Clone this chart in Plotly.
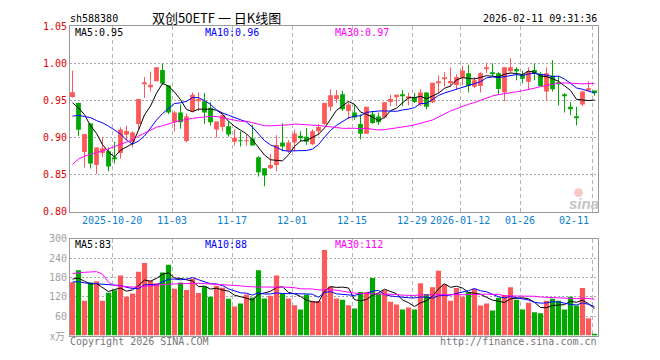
import plotly.graph_objects as go

W, H = 660, 360

dates = [
    "2025-10-09", "2025-10-10", "2025-10-13", "2025-10-14", "2025-10-15", "2025-10-16", "2025-10-17",
    "2025-10-20", "2025-10-21", "2025-10-22", "2025-10-23", "2025-10-24", "2025-10-27", "2025-10-28",
    "2025-10-29", "2025-10-30", "2025-10-31",
    "2025-11-03", "2025-11-04", "2025-11-05", "2025-11-06", "2025-11-07", "2025-11-10", "2025-11-11",
    "2025-11-12", "2025-11-13", "2025-11-14", "2025-11-17", "2025-11-18", "2025-11-19", "2025-11-20",
    "2025-11-21", "2025-11-24", "2025-11-25", "2025-11-26", "2025-11-27", "2025-11-28",
    "2025-12-01", "2025-12-02", "2025-12-03", "2025-12-04", "2025-12-05", "2025-12-08", "2025-12-09",
    "2025-12-10", "2025-12-11", "2025-12-12", "2025-12-15", "2025-12-16", "2025-12-17", "2025-12-18",
    "2025-12-19", "2025-12-22", "2025-12-23", "2025-12-24", "2025-12-25", "2025-12-26", "2025-12-29",
    "2025-12-30", "2025-12-31",
    "2026-01-05", "2026-01-06", "2026-01-07", "2026-01-08", "2026-01-09", "2026-01-12", "2026-01-13",
    "2026-01-14", "2026-01-15", "2026-01-16", "2026-01-19", "2026-01-20", "2026-01-21", "2026-01-22",
    "2026-01-23", "2026-01-26", "2026-01-27", "2026-01-28", "2026-01-29", "2026-01-30",
    "2026-02-02", "2026-02-03", "2026-02-04", "2026-02-05", "2026-02-06", "2026-02-09", "2026-02-10",
    "2026-02-11",
]

opens = [
    0.9547, 0.9468, 0.8806, 0.9190, 0.8632, 0.8793, 0.8815, 0.8725, 0.8793, 0.9040,
    0.8946, 0.9185, 0.9721, 0.9686, 0.9760, 0.9913, 0.9704, 0.9207, 0.9338, 0.8954,
    0.9360, 0.9495, 0.9490, 0.9403, 0.9111, 0.9142, 0.9155, 0.8946, 0.8955, 0.8950,
    0.8989, 0.8736, 0.8588, 0.8588, 0.8632, 0.8933, 0.8824, 0.8933, 0.9024, 0.9011,
    0.8911, 0.9085, 0.9185, 0.9416, 0.9520, 0.9586, 0.9360, 0.9338, 0.9185, 0.9054,
    0.9316, 0.9285, 0.9272, 0.9482, 0.9543, 0.9573, 0.9535, 0.9547, 0.9447, 0.9608,
    0.9477, 0.9739, 0.9791, 0.9739, 0.9708, 0.9808, 0.9869, 0.9686, 0.9695, 0.9926,
    0.9875, 0.9869, 0.9608, 0.9895, 0.9926, 0.9852, 0.9752, 0.9913, 0.9861, 0.9621,
    0.9839, 0.9735, 0.9568, 0.9416, 0.9280, 0.9447, 0.9634, 0.9634,
]
highs = [
    0.9904, 0.9470, 0.9050, 0.9190, 0.8867, 0.9007, 0.8867, 0.8946, 0.9140, 0.9160,
    0.9085, 0.9520, 0.9817, 0.9890, 0.9948, 1.0000, 0.9704, 0.9360, 0.9447, 0.9325,
    0.9608, 0.9608, 0.9600, 0.9477, 0.9216, 0.9338, 0.9216, 0.9111, 0.9085, 0.9041,
    0.9172, 0.8750, 0.8588, 0.8780, 0.9033, 0.9194, 0.8967, 0.9111, 0.9085, 0.9129,
    0.9111, 0.9185, 0.9468, 0.9651, 0.9643, 0.9634, 0.9477, 0.9447, 0.9316, 0.9416,
    0.9360, 0.9338, 0.9477, 0.9577, 0.9577, 0.9643, 0.9608, 0.9600, 0.9651, 0.9608,
    0.9739, 0.9839, 0.9882, 0.9948, 0.9852, 0.9970, 0.9983, 0.9817, 0.9882, 1.0013,
    1.0000, 0.9882, 0.9948, 1.0070, 0.9948, 0.9904, 0.9948, 1.0000, 0.9882, 0.9948,
    1.0044, 0.9826, 0.9600, 0.9477, 0.9416, 0.9634, 0.9765, 0.9634,
]
lows = [
    0.9540, 0.9024, 0.8597, 0.8584, 0.8510, 0.8736, 0.8545, 0.8650, 0.8720, 0.8967,
    0.8867, 0.9110, 0.9534, 0.9620, 0.9760, 0.9708, 0.9316, 0.9085, 0.9120, 0.8937,
    0.9350, 0.9360, 0.9185, 0.9163, 0.9000, 0.9085, 0.9011, 0.8893, 0.8880, 0.8893,
    0.8893, 0.8475, 0.8344, 0.8575, 0.8545, 0.8815, 0.8793, 0.8815, 0.8946, 0.8902,
    0.8902, 0.9033, 0.9172, 0.9360, 0.9468, 0.9360, 0.9250, 0.9242, 0.8976, 0.9054,
    0.9185, 0.9172, 0.9260, 0.9425, 0.9425, 0.9425, 0.9434, 0.9468, 0.9425, 0.9381,
    0.9468, 0.9600, 0.9686, 0.9686, 0.9643, 0.9708, 0.9608, 0.9665, 0.9608, 0.9869,
    0.9817, 0.9577, 0.9490, 0.9869, 0.9773, 0.9730, 0.9651, 0.9773, 0.9686, 0.9503,
    0.9620, 0.9434, 0.9338, 0.9303, 0.9163, 0.9425, 0.9620, 0.9564,
]
closes = [
    0.9612, 0.9107, 0.9050, 0.8650, 0.8867, 0.8858, 0.8610, 0.8710, 0.9111, 0.9090,
    0.9068, 0.9520, 0.9743, 0.9712, 0.9948, 0.9730, 0.9338, 0.9338, 0.9207, 0.9285,
    0.9577, 0.9510, 0.9338, 0.9207, 0.9216, 0.9303, 0.9041, 0.8998, 0.8950, 0.8963,
    0.8893, 0.8532, 0.8488, 0.8632, 0.8902, 0.8880, 0.8933, 0.9055, 0.9000, 0.8946,
    0.9085, 0.9142, 0.9468, 0.9573, 0.9573, 0.9381, 0.9447, 0.9272, 0.9054, 0.9416,
    0.9198, 0.9207, 0.9477, 0.9520, 0.9577, 0.9565, 0.9550, 0.9482, 0.9608, 0.9416,
    0.9739, 0.9752, 0.9808, 0.9765, 0.9817, 0.9904, 0.9695, 0.9773, 0.9869, 0.9935,
    0.9865, 0.9656, 0.9948, 0.9948, 0.9904, 0.9795, 0.9895, 0.9861, 0.9695, 0.9869,
    0.9651, 0.9720, 0.9560, 0.9381, 0.9270, 0.9621, 0.9665, 0.9599,
]
volumes = [
    165, 202, 108, 164, 168, 108, 133, 140, 186, 120,
    130, 198, 225, 170, 162, 195, 219, 145, 164, 141,
    176, 132, 152, 120, 154, 148, 114, 90, 99, 127,
    118, 202, 115, 123, 186, 130, 115, 94, 81, 127,
    107, 107, 265, 152, 115, 111, 94, 84, 135, 135,
    178, 130, 140, 105, 96, 81, 87, 81, 162, 129,
    150, 201, 159, 108, 147, 120, 135, 145, 93, 99,
    78, 117, 126, 150, 111, 81, 102, 72, 69, 108,
    114, 108, 81, 120, 93, 147, 54, 3,
]

# moving-average values read off the picture where earlier history is not shown
ma5_head = [0.947, 0.940, 0.931, 0.916]
ma10_head = [0.929, 0.930, 0.9285, 0.927, 0.923, 0.920, 0.9155, 0.910, 0.905]
ma30_head = [0.864, 0.871, 0.875, 0.878, 0.880, 0.882, 0.885, 0.887, 0.890, 0.894,
             0.897, 0.902, 0.906, 0.910, 0.914, 0.916, 0.919, 0.921, 0.923, 0.925,
             0.926, 0.927, 0.928, 0.9285, 0.9285, 0.927, 0.925, 0.923, 0.922]
vma5_head = [175, 178, 168, 160]
vma10_head = [166, 167, 163, 162, 161, 160, 159, 158, 155]
vma30_head = [192, 195, 196, 197, 198, 190, 165, 155, 153, 151,
              150, 151, 153, 154, 156, 158, 159, 160, 161, 161,
              162, 162, 161, 160, 159, 158, 158, 156, 154]

tick_dates = ["2025-10-20", "2025-11-03", "2025-11-17", "2025-12-01", "2025-12-15",
              "2025-12-29", "2026-01-12", "2026-01-26", "2026-02-11"]
tick_labels = ["2025-10-20", "11-03", "11-17", "12-01", "12-15",
               "12-29", "2026-01-12", "01-26", "02-11"]
price_ticks = [0.80, 0.85, 0.90, 0.95, 1.00, 1.05]
vol_ticks = [60, 120, 180, 240, 300]

code = "sh588380"
title = "双创50ETF 一 日K线图"
stamp = "2026-02-11 09:31:36"
price_ma_labels = ["MA5:0.95", "MA10:0.96", "MA30:0.97"]
vol_ma_labels = ["MA5:83", "MA10:88", "MA30:112"]

UP, DOWN = "#ff5858", "#00a800"
MA_COLORS = ["#000000", "#0000ff", "#ff00ff"]
MONO = "DejaVu Sans Mono"


def rolling(vals, n, head):
    out = list(head)
    for i in range(len(head), len(vals)):
        out.append(sum(vals[i - n + 1:i + 1]) / n)
    return out


n = len(dates)
idx = list(range(n))
up = [c >= o for o, c in zip(opens, closes)]
colors = [UP if u else DOWN for u in up]

ma5 = rolling(closes, 5, ma5_head)
ma10 = rolling(closes, 10, ma10_head)
ma30 = rolling(closes, 30, ma30_head)
vma5 = rolling(volumes, 5, vma5_head)
vma10 = rolling(volumes, 10, vma10_head)
vma30 = rolling(volumes, 30, vma30_head)

fig = go.Figure()

# wicks
for flag, col in [(True, UP), (False, DOWN)]:
    xs, ys = [], []
    for i in idx:
        if up[i] == flag:
            xs += [i, i, None]
            ys += [lows[i], highs[i], None]
    fig.add_trace(go.Scatter(x=xs, y=ys, mode="lines", line=dict(color=col, width=1),
                             hoverinfo="skip", xaxis="x", yaxis="y"))

# bodies
base = [min(o, c) for o, c in zip(opens, closes)]
height = [max(abs(c - o), 0.0012) for o, c in zip(opens, closes)]
fig.add_trace(go.Bar(x=idx, y=height, base=base, width=0.8, marker=dict(color=colors, line=dict(width=0)),
                     xaxis="x", yaxis="y"))

for series, col in zip([ma5, ma10, ma30], MA_COLORS):
    fig.add_trace(go.Scatter(x=idx, y=series, mode="lines", line=dict(color=col, width=1),
                             xaxis="x", yaxis="y"))

# volume
fig.add_trace(go.Bar(x=idx, y=volumes, width=0.86, marker=dict(color=colors, line=dict(width=0)),
                     xaxis="x2", yaxis="y2"))
for series, col in zip([vma5, vma10, vma30], MA_COLORS):
    fig.add_trace(go.Scatter(x=idx, y=series, mode="lines", line=dict(color=col, width=1),
                             xaxis="x2", yaxis="y2"))

L, R = 70.0, 597.5
xr = [-0.4167, 87.5]
grid_x = [dates.index(d) - 0.4 for d in tick_dates]

xcommon = dict(range=xr, domain=[L / W, R / W], showline=True, mirror=True, linecolor="#999999",
               linewidth=1, tickvals=grid_x, showticklabels=False, ticks="", showgrid=True,
               gridcolor="#b4b4b4", griddash="4px,3px", gridwidth=1, zeroline=False, fixedrange=True)
fig.update_layout(
    width=W, height=H, margin=dict(l=0, r=0, t=0, b=0),
    paper_bgcolor="white", plot_bgcolor="white", showlegend=False, barmode="overlay",
    xaxis=dict(anchor="y", **xcommon),
    xaxis2=dict(anchor="y2", matches="x", **xcommon),
    yaxis=dict(domain=[1 - 212.3 / H, 1 - 21 / H], range=[0.80, 1.05], anchor="x",
               tickvals=price_ticks, ticktext=["%.2f" % v for v in price_ticks],
               tickfont=dict(family=MONO, size=10, color="#e00000"), ticks="",
               showline=True, mirror=True, linecolor="#999999", linewidth=1,
               showgrid=True, gridcolor="#a8a8a8", griddash="2px,2px", zeroline=False),
    yaxis2=dict(domain=[1 - 340 / H, 1 - 240 / H], range=[0, 300], anchor="x2",
                tickvals=vol_ticks, ticktext=[str(v) for v in vol_ticks],
                tickfont=dict(family=MONO, size=10, color="#a0a0a0"), ticks="",
                showline=True, mirror=True, linecolor="#999999", linewidth=1,
                showgrid=True, gridcolor="#a8a8a8", griddash="2px,2px", zeroline=False),
)


def ann(text, px, py, anchor="left", color="#000000", size=10, family=MONO, **kw):
    fig.add_annotation(text=text, x=px / W, y=1 - py / H, xref="paper", yref="paper",
                       xanchor=anchor, yanchor="middle", showarrow=False,
                       font=dict(family=family, size=size, color=color), borderpad=0, **kw)


ann(code, 69, 13)
ann(title, 216, 11.5, anchor="center", size=13, family="Noto Sans CJK SC")
ann(stamp, 598, 13, anchor="right")
for lab, col, px in zip(price_ma_labels, MA_COLORS, [74, 204, 334]):
    ann(lab, px, 27, color=col)
for lab, col, px in zip(vol_ma_labels, MA_COLORS, [74, 204, 334]):
    ann(lab, px, 246.5, color=col)

for lab, gx in zip(tick_labels, grid_x):
    last = lab == tick_labels[-1]
    fig.add_annotation(text=lab, x=gx - 0.4 if last else gx, y=1 - 221.5 / H, xref="x", yref="paper",
                       xanchor="right" if last else "center", yanchor="middle", showarrow=False,
                       borderpad=0, font=dict(family=MONO, size=10, color="#0a80d0"))

ann("x万", 66, 340, anchor="right", color="#a0a0a0", family="Noto Sans CJK SC")
ann("Copyright 2026 SINA.COM", 69, 346.5, color="#777777")
ann("http://finance.sina.com.cn", 598, 346.5, anchor="right", color="#777777")

# sina watermark
fig.add_shape(type="circle", xref="paper", yref="paper",
              x0=574 / W, x1=583 / W, y0=1 - 197 / H, y1=1 - 188 / H,
              fillcolor="rgba(240,130,130,0.45)", line=dict(width=0))
ann("<b><i>sina</i></b>", 584, 204, anchor="center", color="#c4c4c4", size=15, family="Liberation Sans")

fig.write_html("out.html", config={"displayModeBar": False},
               post_script="document.body.style.margin='0';document.body.style.overflow='hidden';")
